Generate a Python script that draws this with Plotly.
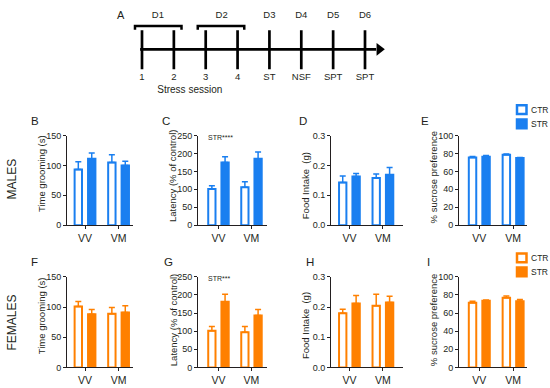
import plotly.graph_objects as go

# ---------------- data ----------------
groups = ["VV", "VM"]

males_groom_ctr, males_groom_ctr_err = [93, 105], [13, 13]
males_groom_str, males_groom_str_err = [111, 100], [10, 7]
males_lat_ctr, males_lat_ctr_err = [101, 106], [9, 15]
males_lat_str, males_lat_str_err = [175, 185], [16, 19]
males_food_ctr, males_food_ctr_err = [0.143, 0.158], [0.022, 0.013]
males_food_str, males_food_str_err = [0.163, 0.169], [0.010, 0.024]
males_sucr_ctr, males_sucr_ctr_err = [75.6, 78.5], [1.1, 0.8]
males_sucr_str, males_sucr_str_err = [76.4, 74.9], [1.4, 0.7]

females_groom_ctr, females_groom_ctr_err = [101, 89], [8, 10]
females_groom_str, females_groom_str_err = [88, 91], [8, 11]
females_lat_ctr, females_lat_ctr_err = [101, 97], [12, 16]
females_lat_str, females_lat_str_err = [181, 143], [21, 17]
females_food_ctr, females_food_ctr_err = [0.179, 0.204], [0.014, 0.038]
females_food_str, females_food_str_err = [0.212, 0.215], [0.026, 0.021]
females_sucr_ctr, females_sucr_ctr_err = [71.5, 76.9], [1.4, 1.8]
females_sucr_str, females_sucr_str_err = [73.6, 72.9], [0.8, 2.0]

y_titles = ["Time grooming (s)", "Latency (% of control)",
            "Food Intake\u00a0 (g)", "% sucrose preference"]
y_ticks = [[0, 50, 100, 150], [0, 50, 100, 150, 200, 250],
           [0.0, 0.1, 0.2, 0.3], [0, 20, 40, 60, 80, 100]]
y_tick_labels = [["0", "50", "100", "150"],
                 ["0", "50", "100", "150", "200", "250"],
                 ["0.0", "0.1", "0.2", "0.3"],
                 ["0", "20", "40", "60", "80", "100"]]
panel_letters = [["B", "C", "D", "E"], ["F", "G", "H", "I"]]
row_labels = ["MALES", "FEMALES"]
legend_labels = ["CTR", "STR"]
stat_labels = ["STR****", "STR***"]

timeline_ticks = ["1", "2", "3", "4", "ST", "NSF", "SPT", "SPT"]
day_labels = ["D1", "D2", "D3", "D4", "D5", "D6"]
day_label_pos = [0.5, 2.5, 4, 5, 6, 7]
bracket_spans = [(-0.22, 1.24), (1.75, 3.21)]
session_label = "Stress session"

# ---------------- layout helpers ----------------
W, H = 550, 388
BLUE = "#1a7ff0"
ORANGE = "#ff8000"
TXT = "#231f20"
FONT = "Liberation Sans, Arial, sans-serif"


def px(x):
    return x / W


def py(y):
    return 1 - y / H


def note(text, x, y, size, angle=0, xanchor="center"):
    return dict(text=text, textangle=angle, xref="paper", yref="paper",
                x=px(x), y=py(y), xanchor=xanchor, yanchor="middle",
                showarrow=False, font=dict(size=size, color=TXT, family=FONT))


col_px = [(67, 133), (198, 267), (331, 403), (459, 527)]
col_ranges = [(-0.537, 1.43), (-0.62, 1.47), (-0.55, 1.6), (-0.6, 1.41)]
row_px = [(134, 226), (279, 372)]
title_x = [41, 173, 305, 433]
title_dy = [[-6.5, -4.5, 6, -3], [-6, -2, 4, -2]]
letter_x = [[34.5, 166, 303, 425], [34.5, 168, 310, 428]]
letter_y = [119, 264]
row_label_y = [179, 326]

rows = [
    [(males_groom_ctr, males_groom_ctr_err, males_groom_str, males_groom_str_err),
     (males_lat_ctr, males_lat_ctr_err, males_lat_str, males_lat_str_err),
     (males_food_ctr, males_food_ctr_err, males_food_str, males_food_str_err),
     (males_sucr_ctr, males_sucr_ctr_err, males_sucr_str, males_sucr_str_err)],
    [(females_groom_ctr, females_groom_ctr_err, females_groom_str, females_groom_str_err),
     (females_lat_ctr, females_lat_ctr_err, females_lat_str, females_lat_str_err),
     (females_food_ctr, females_food_ctr_err, females_food_str, females_food_str_err),
     (females_sucr_ctr, females_sucr_ctr_err, females_sucr_str, females_sucr_str_err)],
]
row_colors = [BLUE, ORANGE]

fig = go.Figure()
layout = {}
annotations = []
shapes = []

BW = 0.22
idx = 0
for r, row in enumerate(rows):
    color = row_colors[r]
    for c, (ctr, ctre, strv, stre) in enumerate(row):
        idx += 1
        xa = "x" if idx == 1 else f"x{idx}"
        ya = "y" if idx == 1 else f"y{idx}"
        for vals, errs, fill, off in [(ctr, ctre, "white", -0.2 - BW / 2),
                                      (strv, stre, color, 0.2 - BW / 2)]:
            fig.add_trace(go.Bar(
                x=groups, y=vals, xaxis=xa, yaxis=ya,
                width=BW, offset=off,
                marker=dict(color=fill, line=dict(color=color, width=2)),
                error_y=dict(type="data", array=errs, arrayminus=[0] * len(errs),
                             symmetric=False, color=color, thickness=1.5, width=3),
                showlegend=False, hoverinfo="skip"))
        x0, x1 = col_px[c]
        y0, y1 = row_px[r]
        yt = y_ticks[c]
        layout["xaxis" if idx == 1 else f"xaxis{idx}"] = dict(
            domain=[px(x0), px(x1)], anchor=ya, type="category",
            categoryorder="array", categoryarray=groups,
            range=list(col_ranges[c]), showline=True, linecolor=TXT, linewidth=1,
            ticks="outside", ticklen=3, tickcolor=TXT, tickwidth=1,
            tickfont=dict(size=10.5, color=TXT, family=FONT),
            showgrid=False, zeroline=False, fixedrange=True)
        layout["yaxis" if idx == 1 else f"yaxis{idx}"] = dict(
            domain=[py(y1), py(y0)], anchor=xa, range=[yt[0], yt[-1]],
            tickvals=yt, ticktext=y_tick_labels[c],
            showline=True, linecolor=TXT, linewidth=1,
            ticks="outside", ticklen=3, tickcolor=TXT, tickwidth=1,
            tickfont=dict(size=9, color=TXT, family=FONT),
            showgrid=False, zeroline=False, fixedrange=True)
        annotations.append(note(y_titles[c], title_x[c],
                                (y0 + y1) / 2 + title_dy[r][c], 9.5, angle=-90))
        annotations.append(note(panel_letters[r][c], letter_x[r][c], letter_y[r], 11.5))
    # row label
    y0, y1 = row_px[r]
    annotations.append(note(row_labels[r], 12, row_label_y[r], 12, angle=-90))
    # stats label
    annotations.append(note(stat_labels[r], 206, y0 + 2, 7, xanchor="left"))
    # legend (manual keys)
    leg_top = [102, 254][r]
    for k, lab in enumerate(legend_labels):
        t = leg_top + k * 14.5
        shapes.append(dict(
            type="rect", xref="paper", yref="paper",
            x0=px(517), x1=px(526.5), y0=py(t + 1), y1=py(t + 10),
            fillcolor="white" if k == 0 else color,
            line=dict(color=color, width=2.5)))
        annotations.append(note(lab, 528.5, t + 5.5, 8.5, xanchor="left"))

# ---------------- timeline (panel A) ----------------
tl_ticks_idx = list(range(len(timeline_ticks)))
LINE_Y, TICK_TOP, TICK_BOT, LABEL_Y, DAY_Y, BR_Y, BR_END = 45.5, 26, 66, 75, 10.5, 21.5, 25.5
tx, ty = [], []
for i in tl_ticks_idx:
    tx += [i, i, None]
    ty += [TICK_TOP, TICK_BOT, None]
fig.add_trace(go.Scatter(x=tx, y=ty, xaxis="x9", yaxis="y9", mode="lines",
                         line=dict(color="black", width=2.7),
                         showlegend=False, hoverinfo="skip"))
fig.add_trace(go.Scatter(x=[-0.06, 7.35], y=[LINE_Y, LINE_Y], xaxis="x9", yaxis="y9",
                         mode="lines", line=dict(color="black", width=2.7),
                         showlegend=False, hoverinfo="skip"))
fig.add_trace(go.Scatter(x=[7.45], y=[LINE_Y], xaxis="x9", yaxis="y9", mode="markers",
                         marker=dict(symbol="triangle-right", size=11, color="black"),
                         showlegend=False, hoverinfo="skip"))
bx, by = [], []
for a, b in bracket_spans:
    bx += [a, a, b, b, None]
    by += [BR_END, BR_Y, BR_Y, BR_END, None]
fig.add_trace(go.Scatter(x=bx, y=by, xaxis="x9", yaxis="y9", mode="lines",
                         line=dict(color="black", width=2.5),
                         showlegend=False, hoverinfo="skip"))
fig.add_trace(go.Scatter(x=tl_ticks_idx, y=[LABEL_Y] * len(tl_ticks_idx),
                         xaxis="x9", yaxis="y9", mode="text", text=timeline_ticks,
                         textfont=dict(size=9.5, color=TXT, family=FONT),
                         showlegend=False, hoverinfo="skip"))
fig.add_trace(go.Scatter(x=day_label_pos, y=[DAY_Y] * len(day_label_pos),
                         xaxis="x9", yaxis="y9", mode="text", text=day_labels,
                         textfont=dict(size=9.5, color=TXT, family=FONT),
                         showlegend=False, hoverinfo="skip"))
fig.add_trace(go.Scatter(x=[1.5], y=[88], xaxis="x9", yaxis="y9", mode="text",
                         text=[session_label],
                         textfont=dict(size=10, color=TXT, family=FONT),
                         showlegend=False, hoverinfo="skip"))
unit = (365 - 142) / 7
layout["xaxis9"] = dict(domain=[px(120), px(420)], anchor="y9",
                        range=[-(142 - 120) / unit, (420 - 142) / unit],
                        visible=False, fixedrange=True)
layout["yaxis9"] = dict(domain=[py(96), 1], anchor="x9", range=[96, 0],
                        visible=False, fixedrange=True)
annotations.append(note("A", 121, 10, 11))

fig.update_layout(
    width=W, height=H, margin=dict(l=0, r=0, t=0, b=0),
    paper_bgcolor="white", plot_bgcolor="white", barmode="overlay",
    font=dict(family=FONT, color=TXT),
    annotations=annotations, shapes=shapes, **layout)

fig.write_html("out.html", config={"displayModeBar": False},
               post_script="document.body.style.margin='0';"
                           "document.body.style.overflow='hidden';")
